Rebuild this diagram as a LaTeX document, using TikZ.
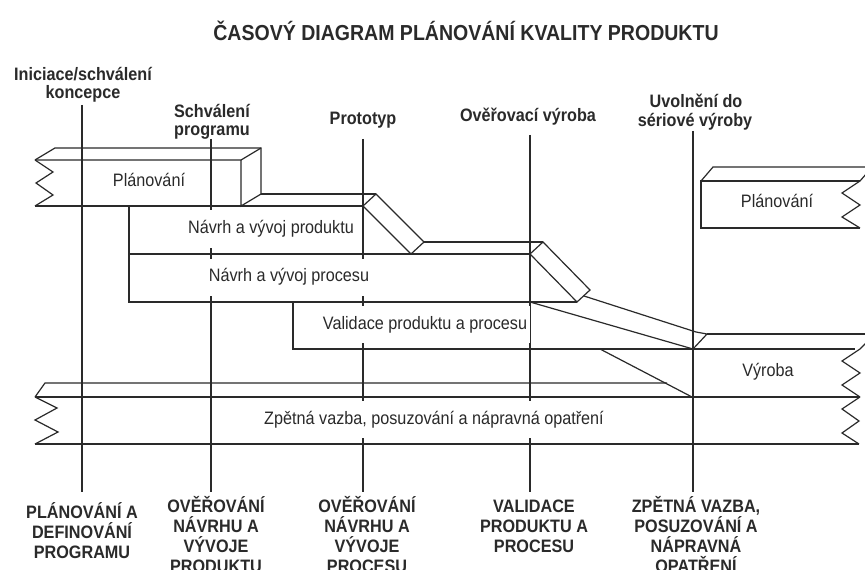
\documentclass[tikz,border=0pt]{standalone}
\usepackage{fontspec}
\setmainfont{Liberation Sans}[FakeStretch=0.9]
\definecolor{ink}{HTML}{2A2A2A}
\tikzset{
  bar/.style={draw=ink, line width=1.2bp, line join=miter},
  vline/.style={draw=ink, line width=1.2bp},
  bartext/.style={fill=white, text=ink, inner xsep=3bp, inner ysep=10bp, text height=13bp, text depth=4bp, font=\fontsize{18bp}{20bp}\selectfont},
  lab/.style={text=ink, inner sep=0pt, anchor=base, font=\bfseries\fontsize{18bp}{20bp}\selectfont},
  ttl/.style={text=ink, inner sep=0pt, anchor=base, font=\bfseries\fontsize{21.7bp}{24bp}\selectfont}
}
\begin{document}
\begin{tikzpicture}[x=1bp,y=-1bp]
\useasboundingbox (0,0) rectangle (865,570);
\clip (0,0) rectangle (865,570);
\fill[white] (0,0) rectangle (865,570);

% title
\node[ttl] (title) at (466,41) {ČASOVÝ DIAGRAM PLÁNOVÁNÍ KVALITY PRODUKTU};

% milestone labels (top)
\node[lab] (ms1a) at (83,81) {Iniciace/schválení};
\node[lab] (ms1b) at (83,99) {koncepce};
\node[lab] (ms2a) at (212,118) {Schválení};
\node[lab] (ms2b) at (212,136) {programu};
\node[lab] (ms3) at (363,125) {Prototyp};
\node[lab] (ms4) at (528,122) {Ověřovací výroba};
\node[lab] (ms5a) at (696,108) {Uvolnění do};
\node[lab] (ms5b) at (695,127) {sériové výroby};

% milestone lines
\coordinate (a1) at (82,105);  \coordinate (a2) at (82,492);
\coordinate (b1) at (211,139); \coordinate (b2) at (211,492);
\coordinate (c1) at (363,139); \coordinate (c2) at (363,492);
\coordinate (d1) at (530,135); \coordinate (d2) at (530,492);
\coordinate (e1) at (693,131); \coordinate (e2) at (693,492);
\draw[vline] (a1) -- (a2);
\draw[vline] (b1) -- (b2);
\draw[vline] (c1) -- (c2);
\draw[vline] (d1) -- (d2);
\draw[vline] (e1) -- (e2);

% Planovani (left) bar
\draw[bar] (35,160) -- (53,172) -- (36,183) -- (53,195) -- (35,206);
\draw[bar] (35,160) -- (55,148) -- (261,148) -- (261,194);
\draw[bar] (35,160) -- (241,160) -- (261,148);
\draw[bar] (241,160) -- (241,206) -- (261,194);
\draw[bar] (35,206) -- (363,206);

% Navrh a vyvoj produktu / procesu
\draw[bar] (261,194) -- (376,194);
\draw[bar] (363,206) -- (376,194) -- (424,242) -- (411,254) -- cycle;
\draw[bar] (424,242) -- (543,242);
\draw[bar] (530,254) -- (543,242) -- (590,290) -- (577,302) -- cycle;
\draw[bar] (129,206) -- (129,302) -- (577,302);
\draw[bar] (129,254) -- (530,254);

% Validace produktu a procesu
\draw[bar] (293,302) -- (293,349) -- (855,349);
\draw[bar] (530,302) -- (693,349);
\draw[bar] (584,296) -- (696,332) -- (707,334) -- (693,349);

% Vyroba
\draw[bar] (707,334) -- (866,334);
\draw[bar] (876,333) -- (860,349) -- (842,361) -- (860,373) -- (842,385) -- (860,397);
\draw[bar] (600,349) -- (692,397);

% Zpetna vazba
\draw[bar] (35,397) -- (57,408) -- (35,420) -- (58,432) -- (35,444);
\draw[bar] (35,397) -- (45,383) -- (667,383);
\draw[bar] (35,397) -- (860,397);
\draw[bar] (860,397) -- (842,409) -- (859,421) -- (842,433) -- (859,444);
\draw[bar] (35,444) -- (859,444);

% Planovani (right) bar
\draw[bar] (701,181) -- (713,167) -- (866,167);
\draw[bar] (860,181) -- (701,181) -- (701,228) -- (860,228);
\draw[bar] (874,165) -- (860,181) -- (842,193) -- (860,205) -- (842,217) -- (860,228);

% bar texts
\node[bartext] (plan1) at (149,182) {Plánování};
\node[bartext] (navprod) at (271,229) {Návrh a vývoj produktu};
\node[bartext] (navproc) at (289,277) {Návrh a vývoj procesu};
\node[bartext] (valid) at (425,324.5) {Validace produktu a procesu};
\node[bartext] (plan2) at (777,203) {Plánování};
\node[bartext] (vyroba) at (768,372) {Výroba};
\node[bartext] (zpet) at (434,419.5) {Zpětná vazba, posuzování a nápravná opatření};

% phase labels (bottom)
\node[lab] (p1a) at (82,518) {PLÁNOVÁNÍ A};
\node[lab] (p1b) at (82,538) {DEFINOVÁNÍ};
\node[lab] (p1c) at (82,558) {PROGRAMU};
\node[lab] (p2a) at (216,512) {OVĚŘOVÁNÍ};
\node[lab] (p2b) at (216,532) {NÁVRHU A};
\node[lab] (p2c) at (216,552) {VÝVOJE};
\node[lab] (p2d) at (216,572) {PRODUKTU};
\node[lab] (p3a) at (367,512) {OVĚŘOVÁNÍ};
\node[lab] (p3b) at (367,532) {NÁVRHU A};
\node[lab] (p3c) at (367,552) {VÝVOJE};
\node[lab] (p3d) at (367,572) {PROCESU};
\node[lab] (p4a) at (534,512) {VALIDACE};
\node[lab] (p4b) at (534,532) {PRODUKTU A};
\node[lab] (p4c) at (534,552) {PROCESU};
\node[lab] (p5a) at (696,512) {ZPĚTNÁ VAZBA,};
\node[lab] (p5b) at (696,532) {POSUZOVÁNÍ A};
\node[lab] (p5c) at (696,552) {NÁPRAVNÁ};
\node[lab] (p5d) at (696,572) {OPATŘENÍ};
\end{tikzpicture}
\end{document}
